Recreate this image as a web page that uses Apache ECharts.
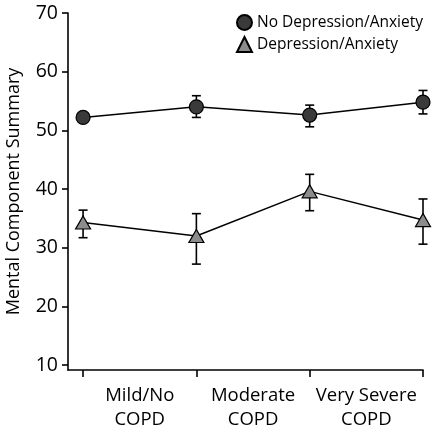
<!DOCTYPE html>
<html><head><meta charset="utf-8">
<script src="https://cdn.jsdelivr.net/npm/echarts@6/dist/echarts.min.js"></script>
<style>html,body{margin:0;padding:0;background:#fff}#c{width:432px;height:429px}</style>
</head><body><div id="c"></div>
<script>
const categories = ['Mild/No\nCOPD', 'Moderate\nCOPD', 'Very Severe\nCOPD'];
const seriesNames = ['No Depression/Anxiety', 'Depression/Anxiety'];
const noDepValues = [52.2, 54.0, 52.6, 54.8];
const noDepLow = [51.6, 52.2, 50.6, 52.8];
const noDepHigh = [52.8, 55.9, 54.3, 56.8];
const depValues = [34.3, 32.0, 39.6, 34.7];
const depLow = [31.7, 27.2, 36.3, 30.6];
const depHigh = [36.4, 35.8, 42.5, 38.3];
const yTicks = [10, 20, 30, 40, 50, 60, 70];
const xPositions = [0, 1, 2, 3];
const labelPositions = [0.5, 1.5, 2.5];

const FONT = '"Open Sans", "Noto Sans", sans-serif';
const chart = echarts.init(document.getElementById('c'), null, {renderer: 'canvas'});

function errSeries(low, high) {
  return {
    type: 'custom',
    silent: true,
    z: 1,
    clip: false,
    data: xPositions.map((x, i) => [x, low[i], high[i]]),
    encode: {x: 0, y: [1, 2]},
    renderItem: function (params, api) {
      const x = api.value(0);
      const lo = api.coord([x, api.value(1)]);
      const hi = api.coord([x, api.value(2)]);
      const w = 4.5;
      const st = {stroke: '#000', lineWidth: 1.6, fill: null};
      return {
        type: 'group',
        children: [
          {type: 'line', shape: {x1: lo[0], y1: lo[1], x2: hi[0], y2: hi[1]}, style: st},
          {type: 'line', shape: {x1: lo[0] - w, y1: lo[1], x2: lo[0] + w, y2: lo[1]}, style: st},
          {type: 'line', shape: {x1: hi[0] - w, y1: hi[1], x2: hi[0] + w, y2: hi[1]}, style: st}
        ]
      };
    }
  };
}

chart.setOption({
  animation: false,
  backgroundColor: '#fff',
  grid: {left: 68, right: 9, top: 13, bottom: 59, containLabel: false, outerBoundsMode: 'none'},
  legend: {
    top: 9, right: 4, orient: 'vertical', itemGap: 5,
    itemWidth: 15, itemHeight: 15,
    textStyle: {fontFamily: FONT, fontSize: 15.5, color: '#000'},
    data: [{name: seriesNames[0], icon: 'circle'}, {name: seriesNames[1], icon: 'triangle'}]
  },
  xAxis: {
    type: 'value', min: -0.133, max: 3,
    splitLine: {show: false},
    axisLine: {show: true, onZero: false, lineStyle: {color: '#000', width: 1.6}},
    axisTick: {show: true, length: 7, customValues: xPositions, lineStyle: {color: '#000', width: 1.6}},
    axisLabel: {
      customValues: labelPositions, margin: 14,
      fontFamily: FONT, fontSize: 18.5, color: '#000', lineHeight: 24,
      formatter: function (v) { return categories[Math.round(v - 0.5)]; }
    }
  },
  yAxis: {
    type: 'value', min: 9.15, max: 70,
    name: 'Mental Component Summary', nameLocation: 'middle', nameGap: 45, nameMoveOverlap: false,
    nameTextStyle: {fontFamily: FONT, fontSize: 18, color: '#000'},
    splitLine: {show: false},
    axisLine: {show: true, onZero: false, lineStyle: {color: '#000', width: 1.6}},
    axisTick: {show: true, length: 6, customValues: yTicks, lineStyle: {color: '#000', width: 1.6}},
    axisLabel: {customValues: yTicks, margin: 10, fontFamily: FONT, fontSize: 19.5, color: '#000'}
  },
  series: [
    errSeries(noDepLow, noDepHigh),
    errSeries(depLow, depHigh),
    {
      name: seriesNames[0], type: 'line', z: 3, clip: false,
      data: xPositions.map((x, i) => [x, noDepValues[i]]),
      symbol: 'circle', symbolSize: 14,
      lineStyle: {color: '#000', width: 1.5},
      itemStyle: {color: '#3a3a3a', borderColor: '#000', borderWidth: 1.2}
    },
    {
      name: seriesNames[1], type: 'line', z: 3, clip: false,
      data: xPositions.map((x, i) => [x, depValues[i]]),
      symbol: 'triangle', symbolSize: [15, 13],
      lineStyle: {color: '#000', width: 1.5},
      itemStyle: {color: '#8c8c8c', borderColor: '#000', borderWidth: 1.2}
    }
  ]
});
</script></body></html>
